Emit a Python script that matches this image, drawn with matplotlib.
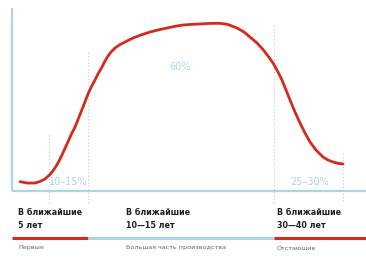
import matplotlib
matplotlib.use('Agg')
import matplotlib.pyplot as plt

# adoption curve (time units 0-100, share units 0-100)
curve_x = [2.26, 4.24, 6.50, 7.91, 9.32, 10.73, 11.86, 12.99, 14.12, 15.54,
           16.67, 17.80, 18.93, 20.06, 21.47, 22.32, 23.45, 24.29, 25.42, 26.27,
           27.12, 27.97, 29.10, 30.51, 31.92, 34.18, 36.44, 38.98, 41.24, 43.79,
           46.05, 48.31, 50.56, 53.11, 55.93, 58.76, 61.02, 63.56, 65.54, 67.23,
           69.21, 70.90, 72.32, 73.73, 75.14, 76.27, 77.40, 78.53, 79.94, 81.36,
           82.77, 84.18, 85.88, 87.85, 89.27, 90.68, 92.09, 93.50]
curve_y = [5.08, 4.37, 4.37, 5.19, 6.56, 9.02, 11.75, 15.30, 19.67, 25.68,
           30.60, 34.97, 40.44, 45.90, 53.01, 56.56, 60.66, 63.93, 67.76, 71.04,
           73.77, 75.96, 78.14, 80.05, 81.42, 83.61, 85.25, 86.89, 87.98, 89.07,
           90.00, 90.71, 91.04, 91.26, 91.58, 91.64, 90.98, 89.07, 86.89, 84.15,
           80.87, 77.32, 73.77, 69.95, 65.03, 60.66, 55.19, 49.73, 43.17, 37.16,
           31.69, 26.78, 22.40, 18.58, 16.94, 15.85, 15.14, 14.75]

dividers = [10.5, 21.5, 74.0, 93.5]
divider_tops = [30.6, 76.0, 90.7, 20.8]

share_labels = ['10–15%', '60%', '25–30%']
share_x = [15.8, 47.5, 84.2]
share_y = [4.9, 67.8, 4.9]

periods = ['В ближайшие\n5 лет', 'В ближайшие\n10—15 лет', 'В ближайшие\n30—40 лет']
groups = ['Первые', 'Большая часть производства', 'Отстающие']
period_x = [18, 126, 277]  # px from left

RED = '#d42a1e'
BLUE = '#a9d6e8'

W, H = 366, 257
fig = plt.figure(figsize=(W / 100, H / 100), dpi=100)
ax = fig.add_axes([12 / W, (H - 191) / H, (W - 12) / W, 183 / H])
ax.set_xlim(0, 100)
ax.set_ylim(0, 100)
ax.axis('off')

# axis lines
ax.plot([0, 0], [0, 100], color=BLUE, lw=1.6, solid_capstyle='butt', clip_on=False)
ax.plot([0, 100], [0, 0], color=BLUE, lw=1.6, solid_capstyle='butt', clip_on=False)

for dx, top in zip(dividers, divider_tops):
    ax.plot([dx, dx], [top, -6.6], color='#c8c8c8', lw=0.8, ls=(0, (1, 2)), clip_on=False)

ax.plot(curve_x, curve_y, color=RED, lw=2.0, solid_capstyle='round', solid_joinstyle='round', zorder=3)

for lab, x, y in zip(share_labels, share_x, share_y):
    ax.text(x, y, lab, color=BLUE, fontsize=7, ha='center', va='center',
            family=['Liberation Sans Narrow', 'DejaVu Sans'])

for lab, px in zip(periods, period_x):
    fig.text(px / W, 1 - 208 / H, lab, fontsize=5.8, fontweight='bold', color='#222222',
             ha='left', va='top', linespacing=1.55)

for lab, px in zip(groups, period_x):
    fig.text(px / W, 1 - 245.5 / H, lab, fontsize=4.6, color='#666666', ha='left', va='top')

# coloured period bar
bar_y = 1 - 238 / H
fig.add_artist(plt.Line2D([12 / W, 88 / W], [bar_y, bar_y], color=RED, lw=2.2, solid_capstyle='butt'))
fig.add_artist(plt.Line2D([88 / W, 274 / W], [bar_y, bar_y], color=BLUE, lw=2.2, solid_capstyle='butt'))
fig.add_artist(plt.Line2D([274 / W, 1], [bar_y, bar_y], color=RED, lw=2.2, solid_capstyle='butt'))

fig.savefig('out.png', dpi=100)
